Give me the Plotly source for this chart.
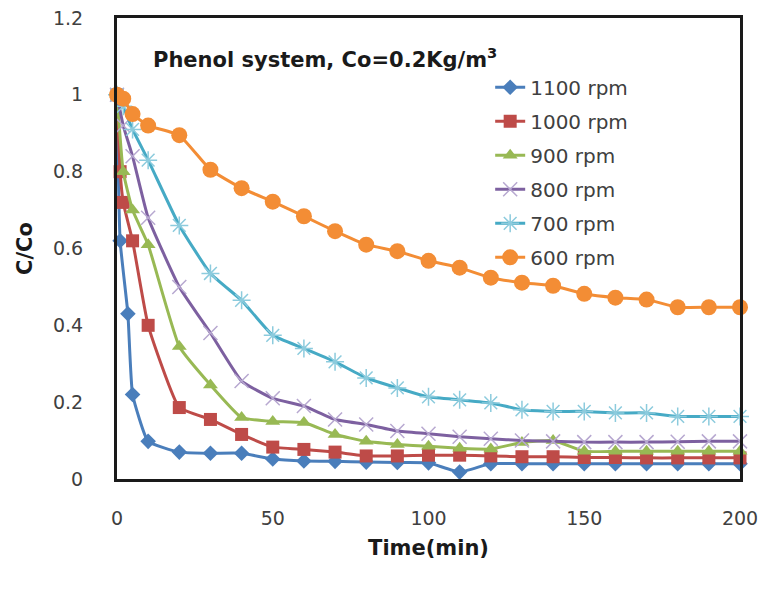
import plotly.graph_objects as go

# ---- data ----
t_1100 = [0, 1, 3.5, 5, 10, 20, 30, 40, 50, 60, 70, 80, 90, 100, 110, 120, 130, 140, 150, 160, 170, 180, 190, 200]
c_1100 = [1.0, 0.62, 0.43, 0.22, 0.098, 0.07, 0.067, 0.067, 0.052, 0.047, 0.046, 0.044, 0.043, 0.042, 0.018,
          0.04, 0.04, 0.04, 0.04, 0.04, 0.04, 0.04, 0.04, 0.04]

t_1000 = [0, 1, 2, 5, 10, 20, 30, 40, 50, 60, 70, 80, 90, 100, 110, 120, 130, 140, 150, 160, 170, 180, 190, 200]
c_1000 = [1.0, 0.80, 0.72, 0.62, 0.40, 0.186, 0.155, 0.116, 0.083, 0.077, 0.07, 0.06, 0.06, 0.062, 0.062,
          0.06, 0.058, 0.058, 0.056, 0.056, 0.055, 0.055, 0.055, 0.055]

t_900 = [0, 2, 5, 10, 20, 30, 40, 50, 60, 70, 80, 90, 100, 110, 120, 130, 140, 150, 160, 170, 180, 190, 200]
c_900 = [1.0, 0.80, 0.70, 0.61, 0.345, 0.245, 0.16, 0.15, 0.147, 0.116, 0.098, 0.09, 0.085, 0.08, 0.078,
         0.095, 0.1, 0.072, 0.072, 0.072, 0.072, 0.072, 0.072]

t_800 = [0, 2, 5, 10, 20, 30, 40, 50, 60, 70, 80, 90, 100, 110, 120, 130, 140, 150, 160, 170, 180, 190, 200]
c_800 = [1.0, 0.92, 0.84, 0.68, 0.50, 0.38, 0.255, 0.21, 0.19, 0.155, 0.142, 0.125, 0.118, 0.11, 0.105,
         0.1, 0.098, 0.096, 0.096, 0.096, 0.097, 0.098, 0.098]

t_700 = [0, 2, 5, 10, 20, 30, 40, 50, 60, 70, 80, 90, 100, 110, 120, 130, 140, 150, 160, 170, 180, 190, 200]
c_700 = [1.0, 0.97, 0.91, 0.83, 0.66, 0.535, 0.465, 0.374, 0.34, 0.305, 0.263, 0.237, 0.214, 0.206, 0.198,
         0.18, 0.176, 0.176, 0.172, 0.172, 0.163, 0.163, 0.163]

t_600 = [0, 2, 5, 10, 20, 30, 40, 50, 60, 70, 80, 90, 100, 110, 120, 130, 140, 150, 160, 170, 180, 190, 200]
c_600 = [1.0, 0.99, 0.95, 0.92, 0.895, 0.805, 0.757, 0.722, 0.684, 0.645, 0.61, 0.593, 0.568, 0.55, 0.524,
         0.511, 0.503, 0.482, 0.472, 0.467, 0.447, 0.447, 0.447]

series_names = ["1100 rpm", "1000 rpm", "900 rpm", "800 rpm", "700 rpm", "600 rpm"]
x_ticks = [0, 50, 100, 150, 200]
y_ticks = [0, 0.2, 0.4, 0.6, 0.8, 1, 1.2]
y_tick_labels = ["0", "0.2", "0.4", "0.6", "0.8", "1", "1.2"]

# ---- styling ----
styles = [
    dict(color="#4A7EBB", symbol="diamond", size=12, mcolor="#4A7EBB", mline=None),
    dict(color="#BE4B48", symbol="square", size=13, mcolor="#BE4B48", mline=None),
    dict(color="#98B954", symbol="triangle-up", size=13, mcolor="#98B954", mline=None),
    dict(color="#7D60A0", symbol="x-thin-open", size=14, mcolor="#B7A8D0", mline=1.5),
    dict(color="#46AAC5", symbol="asterisk-open", size=15, mcolor="#8CCBDD", mline=1.5),
    dict(color="#F38D35", symbol="circle", size=16, mcolor="#F38D35", mline=None),
]

data = [(t_1100, c_1100), (t_1000, c_1000), (t_900, c_900), (t_800, c_800), (t_700, c_700), (t_600, c_600)]

fig = go.Figure()
for (tx, cy), name, st in zip(data, series_names, styles):
    marker = dict(symbol=st["symbol"], size=st["size"], color=st["mcolor"])
    if st["mline"]:
        marker["line"] = dict(color=st["mcolor"], width=st["mline"])
    else:
        marker["line"] = dict(width=0)
    fig.add_trace(go.Scatter(
        x=tx, y=cy, name=name, mode="lines+markers",
        line=dict(color=st["color"], width=3, shape="spline", smoothing=0.4),
        marker=marker, legendgroup=name,
        cliponaxis=False,
    ))

fig.update_layout(
    width=760, height=589,
    margin=dict(l=117, r=20, t=18, b=110, autoexpand=False),
    paper_bgcolor="white", plot_bgcolor="white",
    font=dict(family="DejaVu Sans, Arial", size=19, color="#404040"),
    showlegend=True,
    legend=dict(x=0.599, y=0.892, xanchor="left", yanchor="top",
                bgcolor="rgba(255,255,255,0)", font=dict(family="DejaVu Sans", size=20, color="#404040"),
                tracegroupgap=5, itemwidth=30),
    xaxis=dict(range=[0, 200], tickvals=x_ticks, ticktext=[str(v) for v in x_ticks],
               showgrid=False, zeroline=False, showline=True, linecolor="#1a1a1a",
               linewidth=3, mirror=True, ticks="", ticklabelstandoff=20,
               tickfont=dict(family="DejaVu Sans", size=19, color="#404040"),
               title=dict(text="<b>Time(min)</b>", standoff=13,
                          font=dict(family="DejaVu Sans", size=21, color="#1a1a1a")),
               automargin=False),
    yaxis=dict(range=[0, 1.2], tickvals=y_ticks, ticktext=y_tick_labels,
               showgrid=False, zeroline=False, showline=True, linecolor="#1a1a1a",
               linewidth=3, mirror=True, ticks="", ticklabelstandoff=27,
               tickfont=dict(family="DejaVu Sans", size=19, color="#404040"),
               title=dict(text="<b>C/Co</b>", standoff=15,
                          font=dict(family="DejaVu Sans", size=21, color="#1a1a1a")),
               automargin=False),
    annotations=[dict(
        text="<b>Phenol system, Co=0.2Kg/m<sup>3</sup></b>",
        xref="paper", yref="paper", x=0.055, y=0.914, xanchor="left", yanchor="middle",
        showarrow=False, font=dict(family="DejaVu Sans", size=21, color="#1a1a1a"))],
)

fig.write_html("out.html")
